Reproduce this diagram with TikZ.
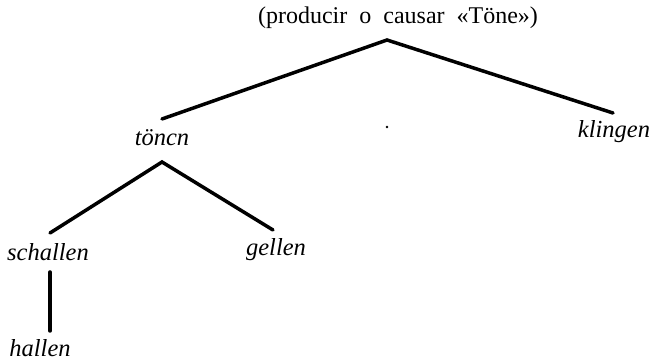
\documentclass[tikz,border=0pt]{standalone}
\usepackage{fontspec}
\setmainfont{Liberation Serif}
\begin{document}
\begin{tikzpicture}[x=1pt,y=1pt,
  lbl/.style={inner sep=0pt, font=\fontsize{24.5}{28}\selectfont\itshape},
  toplbl/.style={inner sep=0pt, font=\fontsize{24}{28}\selectfont},
  branch/.style={line width=3.5pt, line cap=round, line join=miter}]
\useasboundingbox (0,0) rectangle (654,361);
\node[toplbl] (root) at (398,343) {(producir\ \ o\ \ causar\ \ «Töne»)};
\coordinate (apex) at (387,321);
\node[lbl] (tonen) at (162,223) {töncn};
\node[lbl] (klingen) at (614,229) {klingen};
\node[lbl] (schallen) at (48,109) {schallen};
\node[lbl] (gellen) at (276,111) {gellen};
\node[lbl] (hallen) at (40,13) {hallen};
\coordinate (sub) at ([yshift=-24pt]tonen.center);
\draw[branch] ([yshift=19pt]tonen.center) -- (apex) -- ([xshift=-1pt,yshift=19pt]klingen.center);
\draw[branch] ([xshift=2pt,yshift=19pt]schallen.center) -- (sub) -- ([xshift=-3pt,yshift=20pt]gellen.center);
\draw[branch] ([xshift=2pt,yshift=-20pt]schallen.center) -- ([xshift=10pt,yshift=17pt]hallen.center);
\fill (387,234) circle (1.3pt);
\end{tikzpicture}
\end{document}
